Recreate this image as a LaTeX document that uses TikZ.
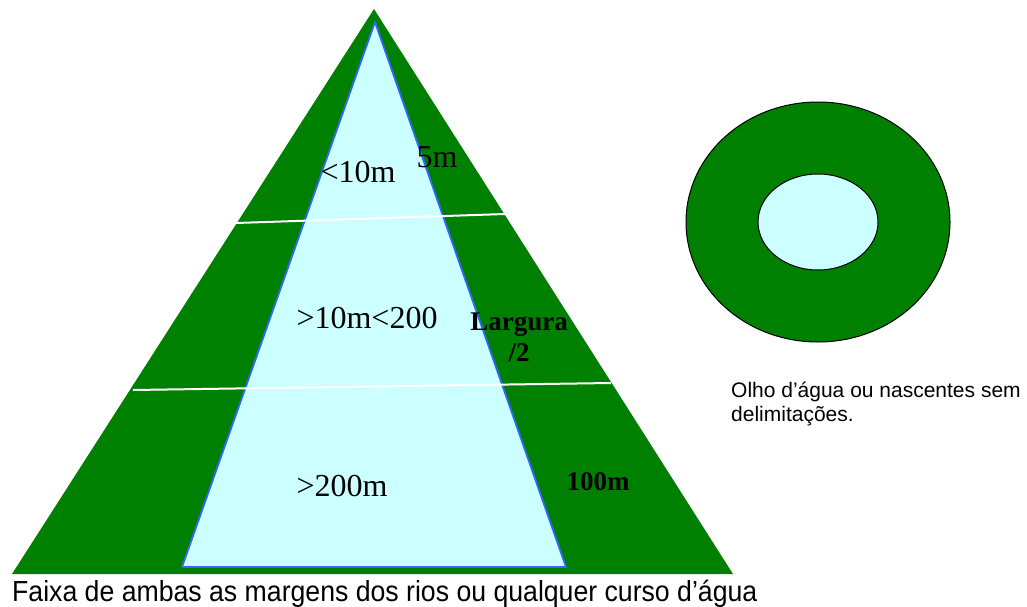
\documentclass[tikz,border=0pt]{standalone}
\usepackage{fontspec}
\usepackage{graphicx}
\setmainfont{Liberation Serif}
\newfontfamily\arialfont{Liberation Sans}
\definecolor{apgreen}{RGB}{0,128,0}
\definecolor{apwater}{RGB}{204,255,255}
\definecolor{apblue}{RGB}{51,102,255}
\tikzset{
  lbl/.style={inner sep=0pt, font=\fontsize{32}{36}\selectfont},
  blbl/.style={inner sep=0pt, font=\fontsize{27}{30}\selectfont\bfseries, align=center},
  sidelbl/.style={inner sep=0pt, anchor=base west, font=\arialfont\fontsize{21}{24}\selectfont},
  divider/.style={draw=white, line width=2pt}
}
\begin{document}
\begin{tikzpicture}[x=1pt,y=-1pt]
\useasboundingbox (0,0) rectangle (1027,607);
% green band
\fill[apgreen] (374,9) -- (733,574) -- (12,574) -- cycle;
% watercourse
\draw[fill=apwater, draw=apblue, line width=1.8pt, line join=round] (375,22) -- (566,567) -- (182,567) -- cycle;
% dividers
\draw[divider] (236,223) -- (505,214);
\draw[divider] (133,390) -- (611,383);
% spring
\draw[fill=apgreen, draw=black, line width=1pt] (818,222) ellipse [x radius=132, y radius=120];
\draw[fill=apwater, draw=black, line width=1pt] (818,222) ellipse [x radius=60, y radius=48];
% labels
\node[lbl] (a) at (358,172) {<10m};
\node[lbl] (b) at (437,157) {5m};
\node[lbl] (c) at (367,318) {>10m<200};
\node[blbl] (d) at (519,337) {Largura\\[1pt]/2};
\node[lbl] (e) at (342,486) {>200m};
\node[blbl] (f) at (598,482) {100m};
\node[inner sep=0pt, anchor=base west, font=\arialfont\fontsize{29}{32}\selectfont] (g) at (12,601) {\scalebox{0.919}[1]{Faixa de ambas as margens dos rios ou qualquer curso d’água}};
\node[sidelbl] (h1) at (731,397) {Olho d’água ou nascentes sem};
\node[sidelbl] (h2) at (731,421) {delimitações.};
\end{tikzpicture}
\end{document}
